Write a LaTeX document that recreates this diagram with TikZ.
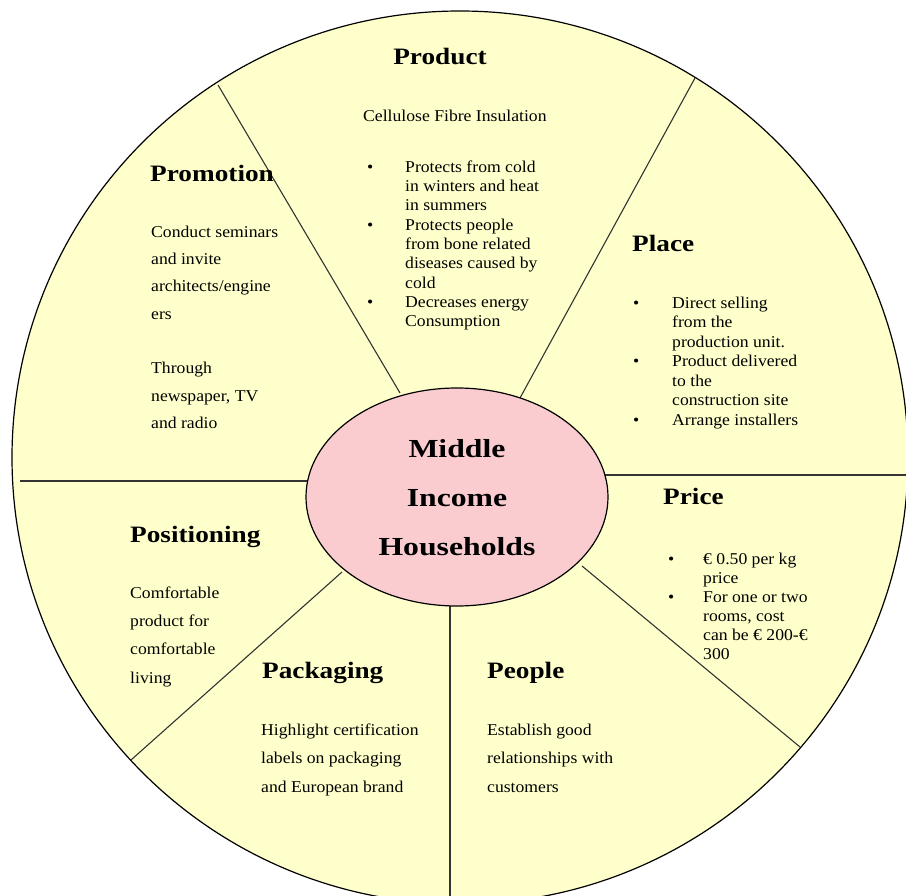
\documentclass[tikz,border=0pt]{standalone}
\usepackage{fontspec}
\usetikzlibrary{shapes.geometric}
\setmainfont{Liberation Serif}[FakeStretch=1.07]
\newfontfamily\headfont{Liberation Serif}[FakeStretch=1.16]
\newfontfamily\hubfont{Liberation Serif}[FakeStretch=1.22]
\definecolor{wheelfill}{RGB}{255,255,204}
\definecolor{hubfill}{RGB}{250,204,208}
\begin{document}
\begin{tikzpicture}[x=1pt,y=-1pt,
  spoke/.style={draw=black!80, line width=1.1pt},
  heading/.style={font=\headfont\bfseries\fontsize{23.5}{28}\selectfont, inner sep=0pt, anchor=base west},
  bodytext/.style={inner sep=0pt, anchor=north west, align=left},
  bullets/.style={inner sep=0pt, anchor=north west},
  single/.style={inner sep=0pt, anchor=base west, font=\fontsize{16.5}{19.3}\selectfont},
]
\useasboundingbox (0,0) rectangle (906,896);
\clip (0,0) rectangle (906,896);
\fill[white] (0,0) rectangle (906,896);

% outer wheel
\node[ellipse, draw=black, line width=1.2pt, fill=wheelfill, minimum width=896pt, minimum height=893pt, inner sep=0pt] (wheel) at (460,457.5) {};

% spoke end points
\coordinate (s1a) at (400,393); \coordinate (s1b) at (218,85);
\coordinate (s2a) at (520,398); \coordinate (s2b) at (695,78);
\coordinate (s3a) at (605,475); \coordinate (s3b) at (906,475);
\coordinate (s4a) at (582,566); \coordinate (s4b) at (800,747);
\coordinate (s5a) at (450,606); \coordinate (s5b) at (450,896);
\coordinate (s6a) at (342,572); \coordinate (s6b) at (131,760);
\coordinate (s7a) at (308,481); \coordinate (s7b) at (20,481);

\draw[spoke] (s1a) -- (s1b);
\draw[spoke] (s2a) -- (s2b);
\draw[spoke] (s3a) -- (s3b);
\draw[spoke] (s4a) -- (s4b);
\draw[spoke] (s5a) -- (s5b);
\draw[spoke] (s6a) -- (s6b);
\draw[spoke] (s7a) -- (s7b);

% hub
\node[ellipse, draw=black, line width=1.2pt, fill=hubfill, minimum width=302pt, minimum height=218pt, inner sep=0pt,
      font=\hubfont\bfseries\fontsize{26}{49}\selectfont] (hub) at (457,497)
  {\begin{tabular}{@{}c@{}}Middle\\Income\\Households\end{tabular}};

% Product
\node[heading, anchor=base] (prodh) at (440,65) {Product};
\node[single] (prodsub) at (363,121.5) {Cellulose Fibre Insulation};
\node[bullets, font=\fontsize{16.5}{19.3}\selectfont] (prodlist) at (367,158.5) {\begin{tabular}{@{}p{38pt}@{}l@{}}
\textbullet & Protects from cold\\
 & in winters and heat\\
 & in summers\\
\textbullet & Protects people\\
 & from bone related\\
 & diseases caused by\\
 & cold\\
\textbullet & Decreases energy\\
 & Consumption
\end{tabular}};

% Promotion
\node[heading] (promh) at (150,182) {Promotion};
\node[bodytext, font=\fontsize{16.5}{27.3}\selectfont] (promb) at (151,217.9)
  {\strut Conduct seminars\\and invite\\architects/engine\\ers\\ \\Through\\newspaper, TV\\and radio};

% Place
\node[heading] (placeh) at (632,252) {Place};
\node[bullets, font=\fontsize{16.5}{19.5}\selectfont] (placelist) at (633,294.3) {\begin{tabular}{@{}p{39pt}@{}l@{}}
\textbullet & Direct selling\\
 & from the\\
 & production unit.\\
\textbullet & Product delivered\\
 & to the\\
 & construction site\\
\textbullet & Arrange installers
\end{tabular}};

% Price
\node[heading] (priceh) at (663,504) {Price};
\node[bullets, font=\fontsize{16.5}{19}\selectfont] (pricelist) at (668,550.7) {\begin{tabular}{@{}p{35pt}@{}l@{}}
\textbullet & € 0.50 per kg\\
 & price\\
\textbullet & For one or two\\
 & rooms, cost\\
 & can be € 200-€\\
 & 300
\end{tabular}};

% Positioning
\node[heading] (posh) at (130,542) {Positioning};
\node[bodytext, font=\fontsize{16.5}{28.3}\selectfont] (posb) at (130,578.2)
  {\strut Comfortable\\product for\\comfortable\\living};

% Packaging
\node[heading] (packh) at (262,678) {Packaging};
\node[bodytext, font=\fontsize{16.5}{28.5}\selectfont] (packb) at (261,715)
  {\strut Highlight certification\\labels on packaging\\and European brand};

% People
\node[heading] (peoph) at (487,678) {People};
\node[bodytext, font=\fontsize{16.5}{28.5}\selectfont] (peopb) at (487,715)
  {\strut Establish good\\relationships with\\customers};
\end{tikzpicture}
\end{document}
